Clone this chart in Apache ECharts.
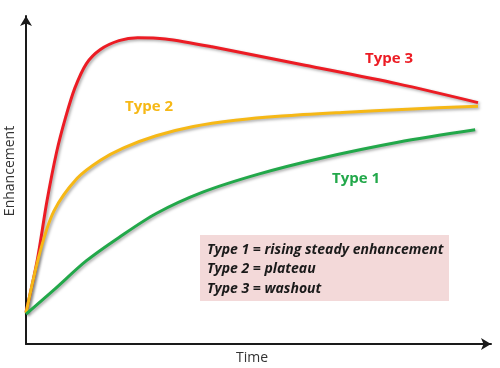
<!DOCTYPE html>
<html><head><meta charset="utf-8">
<script src="https://cdn.jsdelivr.net/npm/echarts@6/dist/echarts.min.js"></script>
<style>html,body{margin:0;padding:0;background:#fff}#c{width:500px;height:368px}</style>
</head><body><div id="c"></div>
<script>
// time (0-100, arbitrary units) and enhancement (0-100, arbitrary units)
const type3 = [[0,9.7],[2.4,25.4],[4.5,43.5],[6.6,58.6],[8.5,69],[10.5,78],[13,85.5],[16,89.8],[20,92.5],[24,93.4],[30,93],[40,90.6],[60,85],[80,79.3],[97.2,73.6]];
const type2 = [[0,9.4],[3,28],[6,40.5],[11,50.5],[16,56],[21,59.8],[28,63.5],[36,66.3],[45,68.2],[55,69.5],[68,70.6],[82,71.6],[97.2,72.5]];
const type1 = [[0,9.1],[6,16.5],[13,25.4],[20,32.5],[28,39.8],[38,46.3],[50,51.8],[63,56.5],[80,61.5],[96.6,65.3]];
const curveLabels = ['Type 3','Type 2','Type 1'];
const legendLines = ['Type 1 = rising steady enhancement','Type 2 = plateau','Type 3 = washout'];
const axisNames = ['Time','Enhancement'];

const chart = echarts.init(document.getElementById('c'));
const colors = ['#ec1c24','#f6b816','#22a84a'];
function ser(d,c){
  return {type:'line',data:d,smooth:0.3,symbol:'none',
    lineStyle:{color:c,width:3,shadowColor:'rgba(0,0,0,0.35)',shadowBlur:3,shadowOffsetX:1.5,shadowOffsetY:1.5}};
}
const axBase = {type:'value',min:0,max:100,splitLine:{show:false},axisTick:{show:false},axisLabel:{show:false},
  axisLine:{show:true,symbol:['none','arrow'],symbolSize:[9,10],lineStyle:{color:'#1a1a1a',width:2}}};
chart.setOption({
  animation:false,
  grid:{left:26,right:9,top:16,bottom:24,containLabel:false,outerBoundsMode:'none'},
  xAxis:Object.assign({},axBase),
  yAxis:Object.assign({},axBase),
  series:[ser(type3,colors[0]),ser(type2,colors[1]),ser(type1,colors[2])],
  graphic:[
    {type:'text',x:252,y:358,style:{text:axisNames[0],fill:'#333',font:'14px "Open Sans"',align:'center',verticalAlign:'middle'}},
    {type:'text',x:10,y:171,rotation:Math.PI/2,style:{text:axisNames[1],fill:'#333',font:'14px "Open Sans"',align:'center',verticalAlign:'middle'}},
    {type:'rect',shape:{x:200,y:235,width:249,height:66},style:{fill:'#f3d9d9'},z:1},
    {type:'text',x:207,y:240,style:{text:legendLines.join('\n'),lineHeight:19.5,fill:'#1a1a1a',font:'italic bold 14px "Open Sans"'},z:2},
    {type:'text',x:365,y:51,style:{text:curveLabels[0],fill:colors[0],font:'bold 15px "Open Sans"'}},
    {type:'text',x:125,y:99,style:{text:curveLabels[1],fill:colors[1],font:'bold 15px "Open Sans"'}},
    {type:'text',x:332,y:171,style:{text:curveLabels[2],fill:colors[2],font:'bold 15px "Open Sans"'}}
  ]
});
</script></body></html>
